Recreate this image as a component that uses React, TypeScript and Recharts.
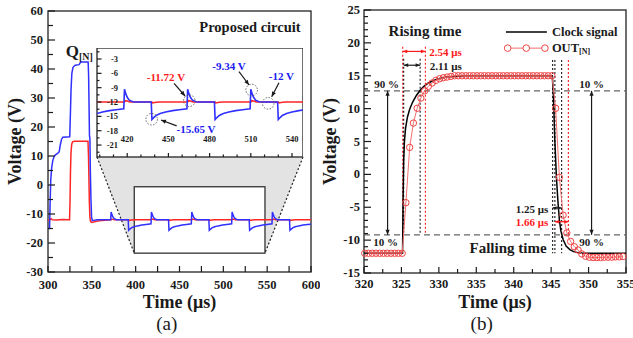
import React from 'react';
import { LineChart, Line, XAxis, YAxis, ReferenceLine, ReferenceDot, ReferenceArea } from 'recharts';

const FONT = '"Liberation Serif", "Times New Roman", Times, serif';
const BLUE = '#3030ff';
const RED = '#ff2626';
const RED_B = '#f04444';
const TXT_RED = '#ff1a1a';
const TXT_BLUE = '#2020f0';
const INK = '#1a1a1a';

// ---------------- panel (a): Q[N] (blue) and OUT (red) ----------------
const qnTime = [
  300, 301.8, 302.5, 303.2, 304.2, 305.5, 307, 308.5, 311, 312.8, 314, 315.5, 317, 324.8,
  325.5, 326.3, 327.2, 328.5, 331, 335.5, 336.5, 337.3, 345.8, 346.3, 346.8, 347.3, 347.8,
  348.3, 349, 349.7, 350.5, 352, 356, 371.5,
  372, 373, 374, 375.5, 378, 380, 391.5,
  392, 393.5, 395, 398, 402, 407, 412, 417.5,
  418, 419, 420, 421.5, 424, 426, 437.5,
  438, 439.5, 441, 444, 448, 453, 458, 463.5,
  464, 465, 466, 467.5, 470, 472, 483.5,
  484, 485.5, 487, 490, 494, 499, 504, 509.5,
  510, 511, 512, 513.5, 516, 518, 529.5,
  530, 531.5, 533, 536, 540, 545, 550, 555.5,
  556, 557, 558, 559.5, 562, 564, 575.5,
  576, 577.5, 579, 582, 586, 591, 596, 600,
];
const qnVolt = [
  -15, -15, -5, 2, 6, 8.5, 9.8, 10.4, 10.9, 11.5, 13.8, 15.8, 16.5, 16.6,
  24, 33, 38.5, 40.6, 41.3, 41.5, 42.0, 42.4, 42.4, 38, 28, 17, 16,
  5, -5, -11, -12.3, -12.2, -12, -12,
  -9.3, -10.3, -11.0, -11.6, -11.95, -12, -12,
  -15.65, -15.2, -14.8, -14.4, -14.1, -13.8, -13.6, -13.4,
  -9.34, -10.3, -11.0, -11.6, -11.95, -12, -12,
  -15.65, -15.2, -14.8, -14.4, -14.1, -13.8, -13.6, -13.4,
  -9.34, -10.3, -11.0, -11.6, -11.95, -12, -12,
  -15.65, -15.2, -14.8, -14.4, -14.1, -13.8, -13.6, -13.4,
  -9.34, -10.3, -11.0, -11.6, -11.95, -12, -12,
  -15.65, -15.2, -14.8, -14.4, -14.1, -13.8, -13.6, -13.4,
  -9.34, -10.3, -11.0, -11.6, -11.95, -12, -12,
  -15.65, -15.2, -14.8, -14.4, -14.1, -13.8, -13.6, -13.5,
];
const outATime = [
  300, 302, 303.5, 305, 310, 316, 324.6, 325.1, 325.6, 326.2, 327, 328, 330, 345.6,
  346.2, 346.7, 347.2, 347.8, 348.5, 350, 353, 357, 362, 368,
  372, 372.5, 374, 376, 392, 392.5, 395, 398,
  418, 418.5, 420, 422, 438, 438.5, 441, 444,
  464, 464.5, 466, 468, 484, 484.5, 487, 490,
  510, 510.5, 512, 514, 530, 530.5, 533, 536,
  556, 556.5, 558, 560, 576, 576.5, 579, 582, 600,
];
const outAVolt = [
  -12.2, -12.0, -11.6, -12.0, -12.1, -11.9, -12, -6, 4, 11, 14, 14.9, 15.1, 15.1,
  10, 2, -6, -11, -12.6, -12.9, -12.7, -12.4, -12.2, -12.05,
  -12, -11.8, -11.85, -12, -12, -12.2, -12.05, -12,
  -12, -11.72, -11.8, -12, -12, -12.2, -12.05, -12,
  -12, -11.72, -11.8, -12, -12, -12.2, -12.05, -12,
  -12, -11.72, -11.8, -12, -12, -12.2, -12.05, -12,
  -12, -11.72, -11.8, -12, -12, -12.2, -12.05, -12, -12,
];

// ---------------- panel (b): clock signal (black) and OUT[N] (red) ----------------
const clockTime = [
  320, 325.15, 325.22, 325.3, 325.4, 325.55, 325.8, 326.1, 326.5, 327, 327.5, 328, 328.6,
  329.3, 330, 331, 332, 333.5, 345.15, 345.3, 345.5, 345.7, 345.9, 346.1, 346.3, 346.6,
  347, 347.5, 348, 348.6, 349.3, 355,
];
const clockVolt = [
  -12, -12, -4, 2, 5, 7, 8.7, 9.9, 11, 12, 12.8, 13.4, 13.9,
  14.3, 14.55, 14.8, 14.9, 15, 15, 12, 5, -0.3, -4, -6.9, -8.6, -9.9,
  -10.9, -11.45, -11.75, -11.9, -12, -12,
];
const outBTime = [
  320.1, 320.6, 321.1, 321.6, 322.1, 322.6, 323.1, 323.6, 324.1, 324.6, 325.1, 325.6, 326.1,
  326.6, 327.1, 327.6, 328.1, 328.6, 329.1, 329.6, 330.1, 330.6, 331.1, 331.6, 332.1, 332.6,
  333.1, 333.6, 334.1, 334.6, 335.1, 335.6, 336.1, 336.6, 337.1, 337.6, 338.1, 338.6, 339.1,
  339.6, 340.1, 340.6, 341.1, 341.6, 342.1, 342.6, 343.1, 343.6, 344.1, 344.6, 345.1, 345.6,
  346.1, 346.6, 347.1, 347.6, 348.1, 348.6, 349.1, 349.6, 350.1, 350.6, 351.1, 351.6, 352.1,
  352.6, 353.1, 353.6, 354.1, 354.6,
];
const outBVolt = [
  -12, -12, -12, -12, -12, -12, -12, -12, -12, -12, -12, -4.3, 4.1,
  7.8, 10.05, 11.6, 12.7, 13.4, 13.9, 14.3, 14.55, 14.7, 14.8, 14.9, 15, 15,
  15, 15, 15, 15, 15, 15, 15, 15, 15, 15, 15, 15, 15,
  15, 15, 15, 15, 15, 15, 15, 15, 15, 15, 15, 15, 10.05,
  -0.45, -6.2, -8.9, -10.2, -11.0, -11.5, -12.1, -12.45, -12.6, -12.65, -12.65, -12.65, -12.6,
  -12.6, -12.6, -12.55, -12.55, -12.5,
];

// ---------------- ticks ----------------
const aXTicks = [300, 325, 350, 375, 400, 425, 450, 475, 500, 525, 550, 575, 600];
const aXLabels = [300, 350, 400, 450, 500, 550, 600];
const aYTicks = [-30, -25, -20, -15, -10, -5, 0, 5, 10, 15, 20, 25, 30, 35, 40, 45, 50, 55, 60];
const aYLabels = [-30, -20, -10, 0, 10, 20, 30, 40, 50, 60];
const inXTicks = [400, 410, 420, 430, 440, 450, 460, 470, 480, 490, 500, 510, 520, 530, 540];
const inXLabels = [420, 450, 480, 510, 540];
const inYTicks = [-1.5, -3, -4.5, -6, -7.5, -9, -10.5, -12, -13.5, -15, -16.5, -18, -19.5, -21, -22.5];
const inYLabels = [-3, -6, -9, -12, -15, -18, -21];
const bXTicks = [320, 322.5, 325, 327.5, 330, 332.5, 335, 337.5, 340, 342.5, 345, 347.5, 350, 352.5, 355];
const bXLabels = [320, 325, 330, 335, 340, 345, 350, 355];
const bYTicks = [
  -15, -14, -13, -12, -11, -10, -9, -8, -7, -6, -5, -4, -3, -2, -1, 0, 1, 2, 3, 4, 5,
  6, 7, 8, 9, 10, 11, 12, 13, 14, 15, 16, 17, 18, 19, 20, 21, 22, 23, 24, 25,
];
const bYLabels = [-15, -10, -5, 0, 5, 10, 15, 20, 25];

const zip = (ts: number[], vs: number[]) => ts.map((t, i) => ({ t, v: vs[i] }));
const qnData = zip(qnTime, qnVolt);
const outAData = zip(outATime, outAVolt);
const clockData = zip(clockTime, clockVolt);
const outBData = zip(outBTime, outBVolt);
const qnInset = qnData.filter((d) => d.t >= 385 && d.t <= 565);
const outAInset = outAData.filter((d) => d.t >= 385 && d.t <= 565);

// ---------------- helpers ----------------
const makeXTick = (labels: number[], majorLen: number, minorLen: number, fs: number, dy: number) =>
  (props: any) => {
    const { x, y, payload } = props;
    const v = payload.value;
    const major = labels.includes(v);
    return (
      <g>
        <line x1={x} x2={x} y1={y} y2={y - (major ? majorLen : minorLen)} stroke={INK} strokeWidth={1.2} />
        {major && (
          <text x={x} y={y + dy} textAnchor="middle" dominantBaseline="central" fontFamily={FONT}
            fontWeight="bold" fontSize={fs} fill={INK}>{v}</text>
        )}
      </g>
    );
  };

const makeYTick = (labels: number[], majorLen: number, minorLen: number, fs: number, dx: number) =>
  (props: any) => {
    const { x, y, payload } = props;
    const v = payload.value;
    const major = labels.includes(v);
    return (
      <g>
        <line x1={x} x2={x + (major ? majorLen : minorLen)} y1={y} y2={y} stroke={INK} strokeWidth={1.2} />
        {major && (
          <text x={x + dx} y={y} textAnchor="end" dominantBaseline="central" fontFamily={FONT}
            fontWeight="bold" fontSize={fs} fill={INK}>{v}</text>
        )}
      </g>
    );
  };

type TxtOpt = { size: number; color?: string; anchor?: 'start' | 'middle' | 'end'; weight?: string | number };
const textShape = (content: React.ReactNode, o: TxtOpt) => (p: any) => (
  <text x={p.cx} y={p.cy} fontFamily={FONT} fontSize={o.size} fontWeight={o.weight ?? 'bold'}
    fill={o.color ?? INK} textAnchor={o.anchor ?? 'middle'} dominantBaseline="central">{content}</text>
);

const arrowShape = (color: string, both: boolean, head = 5) => (p: any) => {
  const { x1, y1, x2, y2 } = p;
  const a = Math.atan2(y2 - y1, x2 - x1);
  const tri = (x: number, y: number, ang: number) => {
    const w = head * 0.42;
    const bx = x - head * Math.cos(ang);
    const by = y - head * Math.sin(ang);
    return `${x},${y} ${bx - w * Math.sin(ang)},${by + w * Math.cos(ang)} ${bx + w * Math.sin(ang)},${by - w * Math.cos(ang)}`;
  };
  return (
    <g>
      <line x1={x1} y1={y1} x2={x2} y2={y2} stroke={color} strokeWidth={1.2} />
      <polygon points={tri(x2, y2, a)} fill={color} />
      {both && <polygon points={tri(x1, y1, a + Math.PI)} fill={color} />}
    </g>
  );
};

const borderShape = (p: any) => (
  <rect x={p.x} y={p.y} width={p.width} height={p.height} fill="none" stroke="#333" strokeWidth={1.4} />
);

const INSET = { left: 97, top: 48, width: 206, height: 109 };
const zoomShape = (p: any) => {
  const { x, y, width, height } = p;
  const ib = INSET.top + INSET.height;
  const l = INSET.left;
  const r = INSET.left + INSET.width;
  return (
    <g>
      <polygon points={`${l},${ib} ${r},${ib} ${x + width},${y + height} ${x},${y + height}`} fill="#e3e3e3" />
      <rect x={x} y={y} width={width} height={height} fill="#fff" stroke="#333" strokeWidth={1.3} />
      <line x1={l} y1={ib} x2={x} y2={y + height} stroke="#222" strokeWidth={1.2} strokeDasharray="2 2" />
      <line x1={r} y1={ib} x2={x + width} y2={y + height} stroke="#222" strokeWidth={1.2} strokeDasharray="2 2" />
    </g>
  );
};

const circleShape = (p: any) => (
  <circle cx={p.cx} cy={p.cy} r={5.8} fill="none" stroke="#555" strokeWidth={0.9} strokeDasharray="1.5 1.5" />
);
const legendDot = (p: any) => (
  <circle cx={p.cx} cy={p.cy} r={3.3} fill="#fff" stroke={RED_B} strokeWidth={1} />
);

const Title = ({ x, y, children, rotate = false, size = 18, weight = 'bold' }: any) => (
  <text x={x} y={y} textAnchor="middle" dominantBaseline="central" fontFamily={FONT} fontSize={size}
    fontWeight={weight} fill={INK} transform={rotate ? `rotate(-90 ${x} ${y})` : undefined}>{children}</text>
);

export default function App() {
  return (
    <div style={{ position: 'absolute', left: 0, top: 0, width: 633, height: 338, background: '#fff', overflow: 'hidden' }}>
      {/* ---------------- panel (a) ---------------- */}
      <div style={{ position: 'absolute', left: 0, top: 0 }}>
        <LineChart width={320} height={338} margin={{ top: 11, right: 9, bottom: 0, left: 0 }}>
          <XAxis dataKey="t" type="number" domain={[300, 600]} ticks={aXTicks} interval={0} height={66}
            axisLine={false} tickLine={false} tickSize={0} tickMargin={0} tick={makeXTick(aXLabels, 6, 6, 12.5, 13)} />
          <YAxis dataKey="v" type="number" domain={[-30, 60]} ticks={aYTicks} interval={0} width={48}
            axisLine={false} tickLine={false} tickSize={0} tickMargin={0} tick={makeYTick(aYLabels, 7, 5, 12.5, -5)} />
          <ReferenceArea x1={398.4} x2={547.5} y1={-23.5} y2={-0.6} shape={zoomShape} ifOverflow="visible" />
          <Line data={outAData} dataKey="v" type="linear" stroke={RED} strokeWidth={1.5} dot={false} isAnimationActive={false} />
          <Line data={qnData} dataKey="v" type="linear" stroke={BLUE} strokeWidth={1.5} dot={false} isAnimationActive={false} />
          <ReferenceArea x1={300} x2={600} y1={-30} y2={60} shape={borderShape} ifOverflow="visible" />
          <ReferenceDot x={530.4} y={54.5} r={0} ifOverflow="visible" shape={textShape('Proposed circuit', { size: 14.5 })} />
          <ReferenceDot x={320.2} y={45.9} r={0} ifOverflow="visible"
            shape={textShape(<>Q<tspan fontSize={10} dy={4}>[N]</tspan></>, { size: 17, anchor: 'start' })} />
        </LineChart>
      </div>

      {/* inset */}
      <div style={{ position: 'absolute', left: INSET.left, top: INSET.top, width: INSET.width, height: INSET.height, background: '#fff' }} />
      <div style={{ position: 'absolute', left: INSET.left - 30, top: INSET.top }}>
        <LineChart width={INSET.width + 30} height={INSET.height + 20} margin={{ top: 0, right: 0, bottom: 0, left: 0 }}>
          <XAxis dataKey="t" type="number" domain={[398, 548]} allowDataOverflow ticks={inXTicks} interval={0} height={20}
            axisLine={false} tickLine={false} tickSize={0} tickMargin={0} tick={makeXTick(inXLabels, 4, 2.5, 8.5, -18)} />
          <YAxis dataKey="v" type="number" domain={[-23.5, -0.7]} allowDataOverflow ticks={inYTicks} interval={0} width={30}
            axisLine={false} tickLine={false} tickSize={0} tickMargin={0} tick={makeYTick(inYLabels, 4.5, 2.5, 8.5, 21)} />
          <Line data={outAInset} dataKey="v" type="linear" stroke={RED} strokeWidth={1.6} dot={false} isAnimationActive={false} />
          <Line data={qnInset} dataKey="v" type="linear" stroke={BLUE} strokeWidth={1.6} dot={false} isAnimationActive={false} />
          <ReferenceArea x1={398} x2={548} y1={-23.5} y2={-0.7} shape={borderShape} ifOverflow="visible" />
          <ReferenceDot x={465.2} y={-11.73} r={0} ifOverflow="visible" shape={circleShape} />
          <ReferenceDot x={437.8} y={-15.6} r={0} ifOverflow="visible" shape={circleShape} />
          <ReferenceDot x={510.6} y={-9.49} r={0} ifOverflow="visible" shape={circleShape} />
          <ReferenceDot x={522.7} y={-12.27} r={0} ifOverflow="visible" shape={circleShape} />
          <ReferenceLine segment={[{ x: 454.1, y: -8.08 }, { x: 462.1, y: -10.74 }]} ifOverflow="visible" shape={arrowShape(INK, false, 5)} />
          <ReferenceLine segment={[{ x: 456.0, y: -17.0 }, { x: 444.6, y: -15.76 }]} ifOverflow="visible" shape={arrowShape(INK, false, 5)} />
          <ReferenceLine segment={[{ x: 501.4, y: -5.66 }, { x: 508.7, y: -8.44 }]} ifOverflow="visible" shape={arrowShape(INK, false, 5)} />
          <ReferenceLine segment={[{ x: 530.5, y: -7.96 }, { x: 525.2, y: -10.89 }]} ifOverflow="visible" shape={arrowShape(INK, false, 5)} />
          <ReferenceDot x={448.2} y={-6.77} r={0} ifOverflow="visible" shape={textShape('-11.72 V', { size: 11, color: TXT_RED })} />
          <ReferenceDot x={470.1} y={-17.64} r={0} ifOverflow="visible" shape={textShape('-15.65 V', { size: 11, color: TXT_BLUE })} />
          <ReferenceDot x={494.1} y={-4.46} r={0} ifOverflow="visible" shape={textShape('-9.34 V', { size: 11, color: TXT_BLUE })} />
          <ReferenceDot x={532.3} y={-6.49} r={0} ifOverflow="visible" shape={textShape('-12 V', { size: 11, color: TXT_BLUE })} />
        </LineChart>
      </div>

      {/* ---------------- panel (b) ---------------- */}
      <div style={{ position: 'absolute', left: 316, top: 0 }}>
        <LineChart width={317} height={338} margin={{ top: 10, right: 7, bottom: 0, left: 0 }}>
          <XAxis dataKey="t" type="number" domain={[320, 355]} ticks={bXTicks} interval={0} height={65}
            axisLine={false} tickLine={false} tickSize={0} tickMargin={0} tick={makeXTick(bXLabels, 6, 4, 12.5, 11)} />
          <YAxis dataKey="v" type="number" domain={[-15, 25]} ticks={bYTicks} interval={0} width={48}
            axisLine={false} tickLine={false} tickSize={0} tickMargin={0} tick={makeYTick(bYLabels, 7, 4, 12.5, -4)} />
          <ReferenceLine y={12.7} stroke="#666" strokeWidth={1.2} strokeDasharray="6 4" />
          <ReferenceLine y={-9.2} stroke="#666" strokeWidth={1.2} strokeDasharray="6 4" />
          {/* rising-edge markers */}
          <ReferenceLine segment={[{ x: 325.17, y: 19.4 }, { x: 325.17, y: -9.2 }]} stroke={TXT_RED} strokeWidth={1.1} strokeDasharray="2 2" />
          <ReferenceLine segment={[{ x: 328.2, y: 19.4 }, { x: 328.2, y: -9.2 }]} stroke={TXT_RED} strokeWidth={1.1} strokeDasharray="2 2" />
          <ReferenceLine segment={[{ x: 325.3, y: 17.6 }, { x: 325.3, y: -9.2 }]} stroke={INK} strokeWidth={1.1} strokeDasharray="2 2" />
          <ReferenceLine segment={[{ x: 327.5, y: 17.6 }, { x: 327.5, y: -9.2 }]} stroke={INK} strokeWidth={1.1} strokeDasharray="2 2" />
          {/* falling-edge markers */}
          <ReferenceLine segment={[{ x: 345.2, y: 17.4 }, { x: 345.2, y: -12 }]} stroke={INK} strokeWidth={1.1} strokeDasharray="2 2" />
          <ReferenceLine segment={[{ x: 345.5, y: 17.4 }, { x: 345.5, y: -12 }]} stroke={INK} strokeWidth={1.1} strokeDasharray="2 2" />
          <ReferenceLine segment={[{ x: 346.4, y: 17.4 }, { x: 346.4, y: -12 }]} stroke={INK} strokeWidth={1.1} strokeDasharray="2 2" />
          <ReferenceLine segment={[{ x: 347.3, y: 17.4 }, { x: 347.3, y: -9.2 }]} stroke={TXT_RED} strokeWidth={1.1} strokeDasharray="2 2" />

          <Line data={clockData} dataKey="v" type="linear" stroke="#000" strokeWidth={1.5} dot={false} isAnimationActive={false} />
          <Line data={outBData} dataKey="v" type="linear" stroke="#f27070" strokeWidth={1}
            dot={{ r: 3.2, stroke: RED_B, strokeWidth: 1, fill: 'none' }} isAnimationActive={false} />

          {/* arrows */}
          <ReferenceLine segment={[{ x: 325.17, y: 18.7 }, { x: 328.2, y: 18.7 }]} ifOverflow="visible" shape={arrowShape(TXT_RED, true, 4.5)} />
          <ReferenceLine segment={[{ x: 325.3, y: 16.6 }, { x: 327.5, y: 16.6 }]} ifOverflow="visible" shape={arrowShape(INK, true, 4.5)} />
          <ReferenceLine segment={[{ x: 345.2, y: -5.1 }, { x: 346.4, y: -5.1 }]} ifOverflow="visible" shape={arrowShape(INK, true, 4)} />
          <ReferenceLine segment={[{ x: 345.5, y: -7.2 }, { x: 347.3, y: -7.2 }]} ifOverflow="visible" shape={arrowShape(TXT_RED, true, 4)} />
          <ReferenceLine segment={[{ x: 323.15, y: 12.7 }, { x: 323.15, y: -9.2 }]} ifOverflow="visible" shape={arrowShape(INK, true, 5)} />
          <ReferenceLine segment={[{ x: 350.4, y: 12.7 }, { x: 350.4, y: -9.2 }]} ifOverflow="visible" shape={arrowShape(INK, true, 5)} />

          {/* texts */}
          <ReferenceDot x={328.15} y={21.85} r={0} ifOverflow="visible" shape={textShape('Rising time', { size: 15 })} />
          <ReferenceDot x={339.24} y={-11.2} r={0} ifOverflow="visible" shape={textShape('Falling time', { size: 15 })} />
          <ReferenceDot x={328.72} y={18.6} r={0} ifOverflow="visible" shape={textShape('2.54 μs', { size: 11, color: TXT_RED, anchor: 'start' })} />
          <ReferenceDot x={328.8} y={16.48} r={0} ifOverflow="visible" shape={textShape('2.11 μs', { size: 11, anchor: 'start' })} />
          <ReferenceDot x={344.62} y={-5.27} r={0} ifOverflow="visible" shape={textShape('1.25 μs', { size: 11, anchor: 'end' })} />
          <ReferenceDot x={344.62} y={-7.29} r={0} ifOverflow="visible" shape={textShape('1.66 μs', { size: 11, color: TXT_RED, anchor: 'end' })} />
          <ReferenceDot x={323.03} y={13.75} r={0} ifOverflow="visible" shape={textShape('90 %', { size: 11 })} />
          <ReferenceDot x={322.9} y={-10.24} r={0} ifOverflow="visible" shape={textShape('10 %', { size: 11 })} />
          <ReferenceDot x={350.42} y={13.75} r={0} ifOverflow="visible" shape={textShape('10 %', { size: 11 })} />
          <ReferenceDot x={350.42} y={-10.24} r={0} ifOverflow="visible" shape={textShape('90 %', { size: 11 })} />

          {/* legend */}
          <ReferenceLine segment={[{ x: 338.96, y: 21.65 }, { x: 344.43, y: 21.65 }]} stroke="#000" strokeWidth={1.5} ifOverflow="visible" />
          <ReferenceDot x={345.1} y={21.65} r={0} ifOverflow="visible" shape={textShape('Clock signal', { size: 12.5, anchor: 'start' })} />
          <ReferenceLine segment={[{ x: 339.19, y: 19.2 }, { x: 344.17, y: 19.2 }]} stroke="#f27070" strokeWidth={1} ifOverflow="visible" />
          <ReferenceDot x={339.19} y={19.2} r={0} ifOverflow="visible" shape={legendDot} />
          <ReferenceDot x={341.68} y={19.2} r={0} ifOverflow="visible" shape={legendDot} />
          <ReferenceDot x={344.17} y={19.2} r={0} ifOverflow="visible" shape={legendDot} />
          <ReferenceDot x={345.1} y={19.2} r={0} ifOverflow="visible"
            shape={textShape(<>OUT<tspan fontSize={8} dy={3}>[N]</tspan></>, { size: 12.5, anchor: 'start' })} />

          <ReferenceArea x1={320} x2={355} y1={-15} y2={25} shape={borderShape} ifOverflow="visible" />
        </LineChart>
      </div>

      {/* axis titles and panel captions */}
      <svg width={633} height={338} style={{ position: 'absolute', left: 0, top: 0, pointerEvents: 'none' }}>
        <Title x={15} y={141.5} rotate>Voltage (V)</Title>
        <Title x={330} y={141.5} rotate>Voltage (V)</Title>
        <Title x={179.5} y={301.5}>Time (μs)</Title>
        <Title x={495} y={301.5}>Time (μs)</Title>
        <Title x={166.7} y={323.5} size={19} weight="normal">(a)</Title>
        <Title x={481.7} y={323.5} size={19} weight="normal">(b)</Title>
      </svg>
    </div>
  );
}
